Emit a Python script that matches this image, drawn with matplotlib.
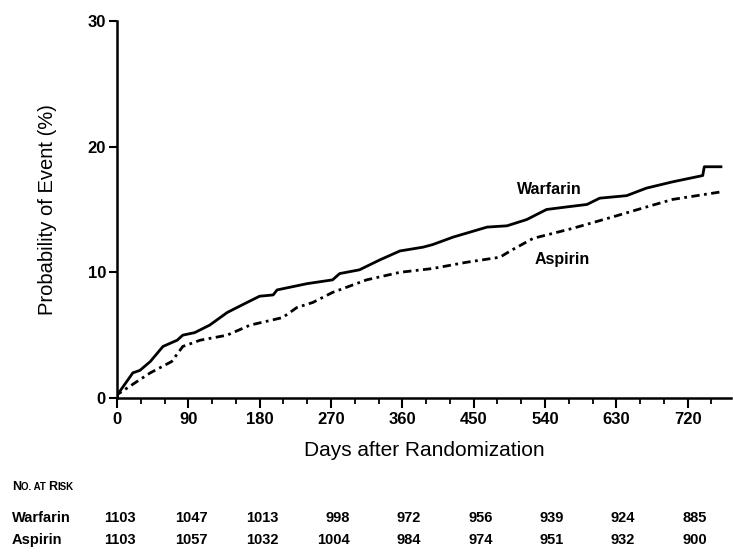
import numpy as np
import matplotlib
matplotlib.use("Agg")
import matplotlib.pyplot as plt
from matplotlib.ticker import MultipleLocator
from matplotlib.offsetbox import TextArea, HPacker, AnnotationBbox

plt.rcParams['font.family'] = ['Liberation Sans', 'DejaVu Sans']

# Cumulative event curves (days, %)
warfarin_days = [0, 1, 20, 29, 42, 54, 58, 76, 83, 98, 117, 139, 164, 180, 197, 202, 240,
                 272, 281, 306, 332, 357, 386, 398, 424, 467, 492, 517, 542, 567, 593,
                 609, 643, 668, 701, 739, 741, 762]
warfarin_pct = [0.0, 0.3, 2.0, 2.2, 2.9, 3.8, 4.1, 4.6, 5.0, 5.2, 5.8, 6.8, 7.6, 8.1, 8.2, 8.6, 9.1,
                9.4, 9.9, 10.2, 11.0, 11.7, 12.0, 12.2, 12.8, 13.6, 13.7, 14.2, 15.0, 15.2, 15.4,
                15.9, 16.1, 16.7, 17.2, 17.7, 18.4, 18.4]

aspirin_days = [0, 1, 25, 42, 69, 83, 105, 139, 168, 209, 227, 247, 272, 315, 357, 398,
                441, 483, 499, 525, 575, 625, 668, 701, 762]
aspirin_pct = [0.0, 0.3, 1.3, 2.0, 2.9, 4.1, 4.6, 5.0, 5.8, 6.4, 7.2, 7.6, 8.4, 9.4, 10.0, 10.3,
               10.8, 11.2, 11.8, 12.7, 13.5, 14.4, 15.2, 15.8, 16.4]

risk_days = [0, 90, 180, 270, 360, 450, 540, 630, 720]
risk_warfarin = [1103, 1047, 1013, 998, 972, 956, 939, 924, 885]
risk_aspirin = [1103, 1057, 1032, 1004, 984, 974, 951, 932, 900]

fig = plt.figure(figsize=(7.33, 5.55), dpi=100)
ax = fig.add_axes([0.1596, 0.2829, 0.838, 0.6793])

ax.plot(warfarin_days, warfarin_pct, color='black', lw=2.0)
ax.plot(aspirin_days, aspirin_pct, color='black', lw=2.0,
        linestyle=(0, (3, 1.6, 1, 1.6)))

ax.text(546, 16.6, 'Warfarin', ha='center', va='center', fontsize=11.5, fontweight='bold')
ax.text(562, 11.0, 'Aspirin', ha='center', va='center', fontsize=11.5, fontweight='bold')

ax.set_xlim(0, 775)
ax.set_ylim(0, 30)
for s in ['top', 'right']:
    ax.spines[s].set_visible(False)
for s in ['left', 'bottom']:
    ax.spines[s].set_linewidth(1.8)

ax.xaxis.set_major_locator(MultipleLocator(90))
ax.xaxis.set_minor_locator(MultipleLocator(30))
ax.yaxis.set_major_locator(MultipleLocator(10))
ax.tick_params(axis='x', which='major', length=7, width=1.5, labelsize=12, pad=3)
ax.tick_params(axis='x', which='minor', length=4, width=1.3)
ax.tick_params(axis='y', which='major', length=6, width=1.5, labelsize=12, pad=2)
for lab in ax.get_xticklabels() + ax.get_yticklabels():
    lab.set_fontweight('bold')

ax.set_xlabel('Days after Randomization', fontsize=15, labelpad=10)
ax.set_ylabel('Probability of Event (%)', fontsize=14.5, labelpad=22)

# number at risk table
trans = matplotlib.transforms.blended_transform_factory(ax.transData, fig.transFigure)
for d, w, a in zip(risk_days, risk_warfarin, risk_aspirin):
    ax.text(d + 24, 0.066, str(w), transform=trans, ha='right', va='center',
            fontsize=10.5, fontweight='bold', clip_on=False)
    ax.text(d + 24, 0.027, str(a), transform=trans, ha='right', va='center',
            fontsize=10.5, fontweight='bold', clip_on=False)
fig.text(0.016, 0.066, 'Warfarin', ha='left', va='center', fontsize=10.5, fontweight='bold')
fig.text(0.016, 0.027, 'Aspirin', ha='left', va='center', fontsize=10.5, fontweight='bold')

# small caps heading
parts = [('N', 9), ('O. AT ', 7), ('R', 9), ('ISK', 7)]
boxes = [TextArea(t, textprops=dict(fontsize=s, fontweight='bold')) for t, s in parts]
pack = HPacker(children=boxes, align='baseline', pad=0, sep=0)
ab = AnnotationBbox(pack, (0.016, 0.122), xycoords='figure fraction', box_alignment=(0, 0.5),
                    frameon=False, pad=0)
fig.add_artist(ab)

fig.savefig('out.png', dpi=100)
